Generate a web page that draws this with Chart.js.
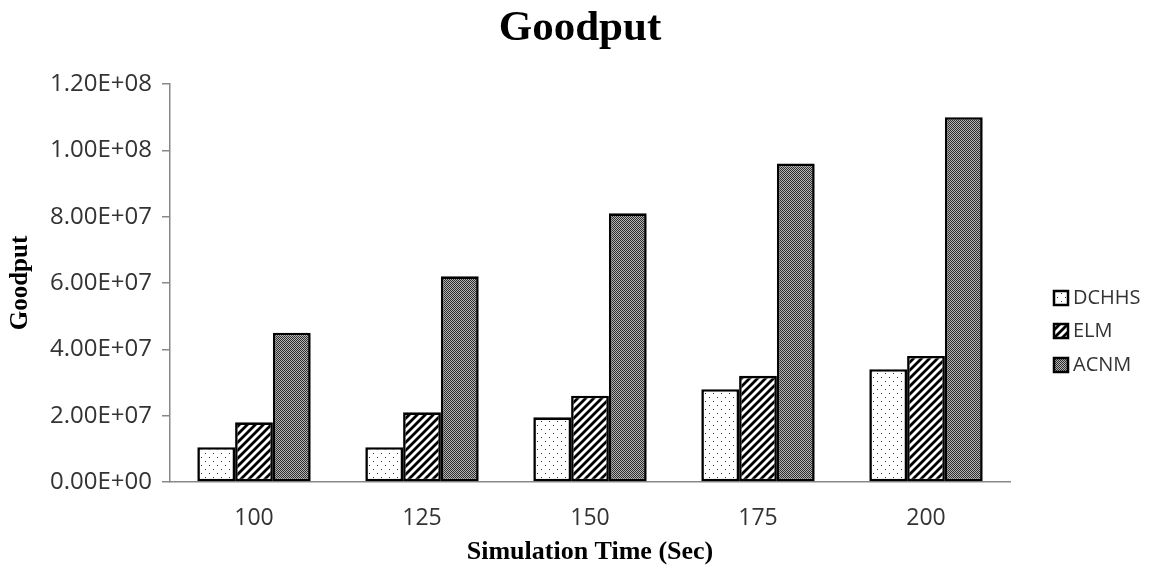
<!DOCTYPE html>
<html>
<head>
  <title>Goodput</title>
  <script src="https://cdn.jsdelivr.net/npm/chart.js@4.4.1/dist/chart.umd.min.js"></script>
  <style>
    html, body { margin: 0; padding: 0; background: #fff; }
  </style>
</head>
<body>
  <canvas id="goodput-chart" width="1158" height="568"></canvas>
  <script>
    // values
    const simTimes = ['100', '125', '150', '175', '200'];
    const dchhs = [1.05e7, 1.05e7, 1.95e7, 2.8e7, 3.4e7];
    const elm = [1.8e7, 2.1e7, 2.6e7, 3.2e7, 3.8e7];
    const acnm = [4.5e7, 6.2e7, 8.1e7, 9.6e7, 1.1e8];
    const seriesNames = ['DCHHS', 'ELM', 'ACNM'];
    const yMax = 1.2e8;
    const yStep = 2e7;

    // fill patterns like the old Excel ones
    function makePattern(size, draw) {
      const c = document.createElement('canvas');
      c.width = size; c.height = size;
      const g = c.getContext('2d');
      draw(g, size);
      return document.getElementById('goodput-chart').getContext('2d').createPattern(c, 'repeat');
    }
    const dotFill = makePattern(8, (g, s) => {
      g.fillStyle = '#fff'; g.fillRect(0, 0, s, s);
      g.fillStyle = '#333';
      g.fillRect(1, 1, 1, 1);
      g.fillRect(5, 5, 1, 1);
    });
    const hatchFill = makePattern(8, (g, s) => {
      g.fillStyle = '#fff'; g.fillRect(0, 0, s, s);
      g.strokeStyle = '#000'; g.lineWidth = 2.8;
      g.beginPath();
      g.moveTo(-2, s + 2); g.lineTo(s + 2, -2);
      g.moveTo(-2, 2); g.lineTo(2, -2);
      g.moveTo(s - 2, s + 2); g.lineTo(s + 2, s - 2);
      g.stroke();
    });
    const checkFill = makePattern(2, (g) => {
      g.fillStyle = '#b4b4b4'; g.fillRect(0, 0, 2, 2);
      g.fillStyle = '#2e2e2e';
      g.fillRect(0, 0, 1, 1);
      g.fillRect(1, 1, 1, 1);
    });
    const fills = [dotFill, hatchFill, checkFill];

    function sciLabel(v) {
      if (v === 0) return '0.00E+00';
      const exp = Math.floor(Math.log10(v));
      const mant = (v / Math.pow(10, exp)).toFixed(2);
      return mant + 'E+' + String(exp).padStart(2, '0');
    }

    // title + legend drawn by hand, Excel style
    const extras = {
      id: 'extras',
      afterDraw(chart) {
        const ctx = chart.ctx;
        ctx.save();
        ctx.fillStyle = '#000';
        ctx.font = 'bold 43px "Liberation Serif", "Times New Roman", serif';
        ctx.textAlign = 'center';
        ctx.textBaseline = 'alphabetic';
        ctx.fillText('Goodput', 580, 40);

        ctx.font = '20px "Open Sans", sans-serif';
        ctx.textAlign = 'left';
        ctx.textBaseline = 'middle';
        const ys = [298, 331, 365];
        chart.data.datasets.forEach((ds, i) => {
          ctx.fillStyle = ds.backgroundColor;
          ctx.fillRect(1054, ys[i] - 7, 14, 14);
          ctx.strokeStyle = '#000';
          ctx.lineWidth = 2.5;
          ctx.strokeRect(1054, ys[i] - 7, 14, 14);
          ctx.fillStyle = '#333';
          ctx.fillText(ds.label, 1073, ys[i]);
        });
        ctx.restore();
      }
    };

    new Chart(document.getElementById('goodput-chart'), {
      type: 'bar',
      data: {
        labels: simTimes,
        datasets: [dchhs, elm, acnm].map((vals, i) => ({
          label: seriesNames[i],
          data: vals,
          backgroundColor: fills[i],
          borderColor: '#000',
          borderWidth: 2.6,
          borderSkipped: false
        }))
      },
      options: {
        responsive: false,
        animation: false,
        layout: { padding: { top: 84, right: 148, bottom: 0, left: 0 } },
        categoryPercentage: 0.675,
        barPercentage: 1.0,
        plugins: {
          legend: { display: false },
          title: { display: false },
          tooltip: { enabled: false }
        },
        scales: {
          x: {
            afterFit: (s) => { s.height = 86; },
            grid: { display: false, drawTicks: false },
            border: { color: '#888', width: 1.5 },
            ticks: { color: '#333', padding: 23, font: { family: 'Open Sans', size: 23 } },
            title: {
              display: true,
              text: 'Simulation Time (Sec)',
              color: '#000',
              font: { family: 'Liberation Serif', size: 26, weight: 'bold' },
              padding: { top: 0, bottom: 0 }
            }
          },
          y: {
            min: 0,
            max: yMax,
            afterFit: (s) => { s.width = 170; },
            grid: { drawOnChartArea: false, tickLength: 8, color: '#888', lineWidth: 1.5 },
            border: { color: '#888', width: 1.5 },
            ticks: {
              stepSize: yStep,
              padding: 10,
              color: '#333',
              font: { family: 'Open Sans', size: 24 },
              callback: (v) => sciLabel(v)
            },
            title: {
              display: true,
              text: 'Goodput',
              color: '#000',
              font: { family: 'Liberation Serif', size: 25, weight: 'bold' },
              padding: { top: 6, bottom: 0 }
            }
          }
        }
      },
      plugins: [extras]
    });
  </script>
</body>
</html>
